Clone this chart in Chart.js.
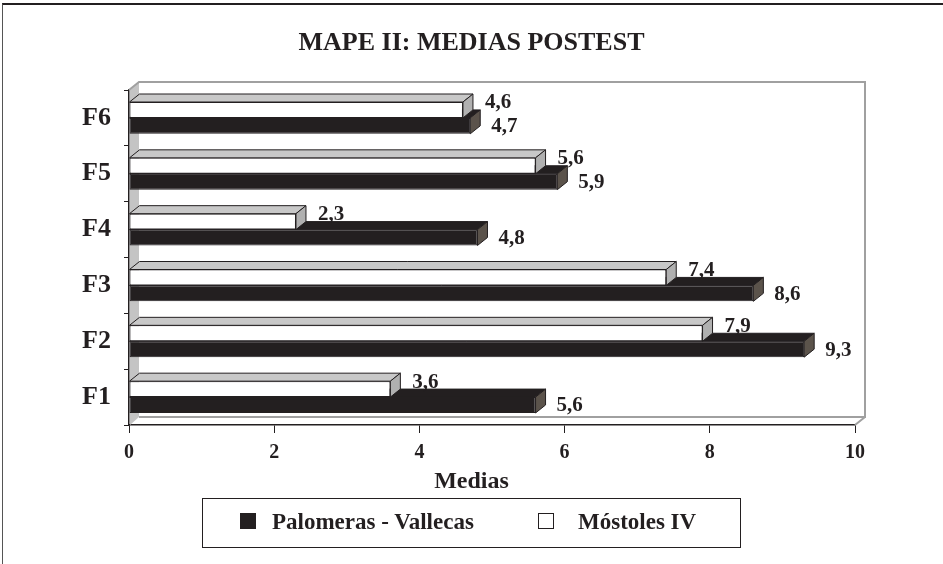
<!DOCTYPE html>
<html>
<head>
<meta charset="utf-8">
<script src="https://cdn.jsdelivr.net/npm/chart.js@4/dist/chart.umd.min.js"></script>
<style>
  html, body { margin: 0; padding: 0; background: #fff; overflow: hidden; }
  #wrap { position: relative; width: 943px; height: 564px; }
  #frame { position: absolute; left: 2px; top: 3px; width: 1000px; height: 600px;
           border-left: 1px solid #555; border-top: 2px solid #231f20; }
  #chart { position: absolute; left: 0; top: 0; }
  #legend { position: absolute; left: 202px; top: 498px; width: 537px; height: 48px;
            border: 1px solid #231f20; font: bold 23px "Liberation Serif", "Times New Roman", serif;
            color: #231f20; }
  .item { position: absolute; top: 10px; white-space: nowrap; }
  .sw { display: inline-block; width: 14px; height: 14px; border: 1px solid #231f20;
        margin-right: 16px; vertical-align: 0px; }
</style>
</head>
<body>
<div id="wrap">
  <div id="frame"></div>
  <canvas id="chart" width="943" height="564"></canvas>
  <div id="legend">
    <span class="item" style="left:37px"><span class="sw" style="background:#231f20"></span>Palomeras - Vallecas</span>
    <span class="item" style="left:335px"><span class="sw" style="background:#fff;margin-right:24px"></span>Móstoles IV</span>
  </div>
</div>
<script>
const categories = ["F1", "F2", "F3", "F4", "F5", "F6"];
const palomeras = [5.6, 9.3, 8.6, 4.8, 5.9, 4.7];
const mostoles = [3.6, 7.9, 7.4, 2.3, 5.6, 4.6];
const xMin = 0;
const xMax = 10;
const xStep = 2;
const titleText = "MAPE II: MEDIAS POSTEST";
const xTitle = "Medias";

const INK = "#231f20";
const FONT = "'Liberation Serif', 'Times New Roman', serif";
const DX = 10, DY = 8;

// back wall, floor and the top/right faces of the bars
const depthPlugin = {
  id: "depth",
  beforeDatasetsDraw(chart) {
    const { ctx, chartArea: a } = chart;
    ctx.save();
    // left wall
    ctx.fillStyle = "#c4c4c4";
    ctx.beginPath();
    ctx.moveTo(a.left + 1, a.top);
    ctx.lineTo(a.left + DX, a.top - DY);
    ctx.lineTo(a.left + DX, a.bottom - DY);
    ctx.lineTo(a.left + 1, a.bottom);
    ctx.closePath();
    ctx.fill();
    // back wall edges
    ctx.strokeStyle = "#a0a0a0";
    ctx.lineWidth = 2;
    ctx.beginPath();
    ctx.moveTo(a.left, a.top);
    ctx.lineTo(a.left + DX, a.top - DY);
    ctx.lineTo(a.right + DX, a.top - DY);
    ctx.lineTo(a.right + DX, a.bottom - DY);
    ctx.lineTo(a.left + DX, a.bottom - DY);
    ctx.moveTo(a.right, a.bottom);
    ctx.lineTo(a.right + DX, a.bottom - DY);
    ctx.stroke();

    // faces: black series first, white over it
    const order = [1, 0];
    const tops = ["#231f20", "#c8c8c8"];
    const sides = ["#5b534b", "#b0b0b0"];
    ctx.lineWidth = 1;
    ctx.strokeStyle = INK;
    order.forEach((di, k) => {
      const meta = chart.getDatasetMeta(di);
      meta.data.forEach(bar => {
        const { x, y, base, height } = bar.getProps(["x", "y", "base", "height"], true);
        const t = y - height / 2, b = y + height / 2;
        ctx.fillStyle = tops[k];
        ctx.beginPath();
        ctx.moveTo(base, t);
        ctx.lineTo(base + DX, t - DY);
        ctx.lineTo(x + DX, t - DY);
        ctx.lineTo(x, t);
        ctx.closePath();
        ctx.fill();
        ctx.stroke();
        ctx.fillStyle = sides[k];
        ctx.beginPath();
        ctx.moveTo(x, t);
        ctx.lineTo(x + DX, t - DY);
        ctx.lineTo(x + DX, b - DY);
        ctx.lineTo(x, b);
        ctx.closePath();
        ctx.fill();
        ctx.stroke();
      });
    });
    ctx.restore();
  },
  afterDatasetsDraw(chart) {
    const { ctx } = chart;
    ctx.save();
    ctx.font = "bold 21px " + FONT;
    ctx.fillStyle = INK;
    ctx.textAlign = "left";
    ctx.textBaseline = "middle";
    chart.data.datasets.forEach((ds, di) => {
      chart.getDatasetMeta(di).data.forEach((bar, i) => {
        const { x, y, height } = bar.getProps(["x", "y", "height"], true);
        const txt = ds.data[i].toFixed(1).replace(".", ",");
        if (di === 0) ctx.fillText(txt, x + 22, y - height / 2 + 1);
        else ctx.fillText(txt, x + 21, y + 1);
      });
    });
    ctx.restore();
  },
  afterDraw(chart) {
    const { ctx } = chart;
    ctx.save();
    ctx.fillStyle = INK;
    ctx.textAlign = "center";
    ctx.textBaseline = "middle";
    ctx.font = "bold 26px " + FONT;
    ctx.fillText(titleText, chart.width / 2, 43);
    ctx.font = "bold 24px " + FONT;
    ctx.fillText(xTitle, chart.width / 2, 482);
    ctx.restore();
  }
};

new Chart(document.getElementById("chart"), {
  type: "bar",
  data: {
    labels: categories,
    datasets: [
      {
        label: "Móstoles IV",
        data: mostoles,
        backgroundColor: "#ffffff",
        borderColor: INK,
        borderWidth: 1,
        borderSkipped: false
      },
      {
        label: "Palomeras - Vallecas",
        data: palomeras,
        backgroundColor: INK,
        borderColor: INK,
        borderWidth: 1,
        borderSkipped: false
      }
    ]
  },
  options: {
    indexAxis: "y",
    responsive: false,
    animation: false,
    devicePixelRatio: 1,
    layout: { padding: { left: 0, right: 88, top: 90, bottom: 101 } },
    datasets: { bar: { categoryPercentage: 0.57, barPercentage: 1 } },
    plugins: {
      legend: { display: false },
      tooltip: { enabled: false },
      title: { display: false }
    },
    scales: {
      x: {
        min: xMin,
        max: xMax,
        ticks: { stepSize: xStep, color: INK, padding: 8, font: { family: FONT, size: 20, weight: "bold" } },
        grid: { drawOnChartArea: false, drawTicks: true, tickLength: 8, color: INK },
        border: { color: INK, width: 1.5 },
        afterFit(scale) { scale.height = 38; }
      },
      y: {
        reverse: true,
        ticks: { color: INK, padding: 13, font: { family: FONT, size: 26, weight: "bold" } },
        grid: { drawOnChartArea: false, drawTicks: true, tickLength: 5, color: INK, offset: true },
        border: { color: INK, width: 1.5 },
        afterFit(scale) { scale.width = 129; }
      }
    }
  },
  plugins: [depthPlugin]
});
</script>
</body>
</html>
